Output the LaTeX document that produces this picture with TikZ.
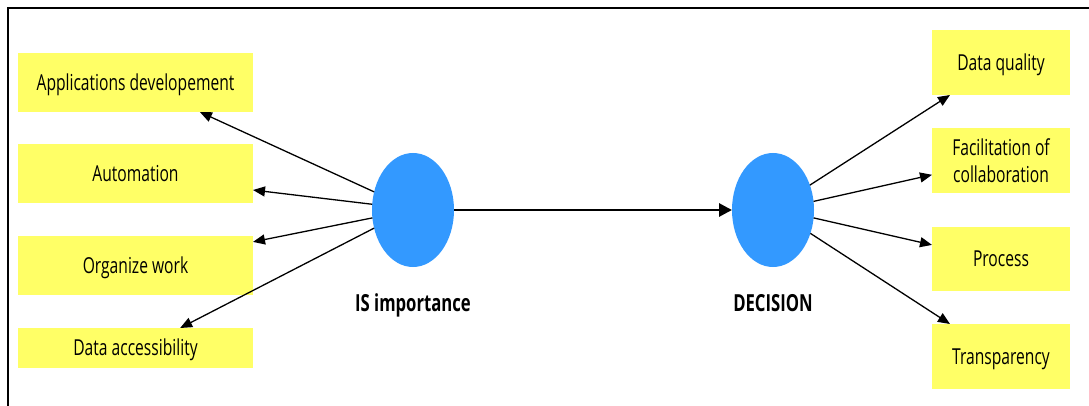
\documentclass[tikz,border=0pt]{standalone}
\usepackage{fontspec}
\setmainfont[FakeStretch=0.71]{Open Sans}
\usetikzlibrary{arrows.meta,shapes.geometric,calc}
\definecolor{itemyellow}{HTML}{FFFF66}
\definecolor{hubblue}{HTML}{3399FF}
\begin{document}
\begin{tikzpicture}[x=1pt,y=-1pt,
  item/.style={fill=itemyellow, inner sep=0pt, outer sep=0pt, align=center,
    font=\fontsize{22}{27}\selectfont},
  oneline/.style={text height=15.7pt, text depth=0pt},
  leftitem/.style={item, oneline, minimum width=235pt},
  rightitem/.style={item, minimum width=138pt},
  hub/.style={ellipse, fill=hubblue, inner sep=0pt, outer sep=0pt,
    minimum width=82pt, minimum height=114pt},
  hublabel/.style={anchor=base, font=\fontsize{23.5}{26}\selectfont\bfseries},
  link/.style={line width=1.3pt, -{Triangle[length=12pt,width=10pt]}},
  mainlink/.style={line width=2.8pt, -{Triangle[length=13pt,width=13pt]}}]

\useasboundingbox (0,0) rectangle (1089,406);
\fill[white] (0,0) rectangle (1089,406);

% frame
\draw[line width=1.5pt] (8,406) -- (8,8) -- (1089,8);

% left items
\node[leftitem, minimum height=59pt] (app)  at (135.5,82.5)  {Applications developement};
\node[leftitem, minimum height=59pt] (auto) at (135.5,173.5) {Automation};
\node[leftitem, minimum height=59pt] (org)  at (135.5,265.5) {Organize work};
\node[leftitem, minimum height=40pt] (acc)  at (135.5,348)   {Data accessibility};

% right items
\node[rightitem, oneline, minimum height=65pt] (dq)    at (1001,62.5)  {Data quality};
\node[rightitem, minimum height=65pt] (fac)   at (1001,160.5) {Facilitation of\\collaboration};
\node[rightitem, oneline, minimum height=64pt] (proc)  at (1001,259)   {Process};
\node[rightitem, oneline, minimum height=65pt] (trans) at (1001,356.5) {Transparency};

% hubs
\node[hub] (is)  at (413,210) {};
\node[hub] (dec) at (773,210) {};
\node[hublabel] (islabel)  at (413,311) {IS importance};
\node[hublabel] (declabel) at (773,311) {DECISION};

% connectors
\draw[mainlink] (is.east) -- (dec.west);

\draw[link] (is.155) -- ($(app.south west)!0.774!(app.south east)$);
\draw[link] (is.172) -- ($(auto.north east)!0.78!(auto.south east)$);
\draw[link] (is.191) -- ($(org.north east)!0.10!(org.south east)$);
\draw[link] (is.205) -- ($(acc.north west)!0.69!(acc.north east)$);

\draw[link] (dec.34)  -- ($(dq.south west)!0.13!(dq.south east)$);
\draw[link] (dec.12)  -- ($(fac.north west)!0.72!(fac.south west)$);
\draw[link] (dec.-11) -- ($(proc.north west)!0.28!(proc.south west)$);
\draw[link] (dec.-32) -- ($(trans.north west)!0.13!(trans.north east)$);
\end{tikzpicture}
\end{document}
